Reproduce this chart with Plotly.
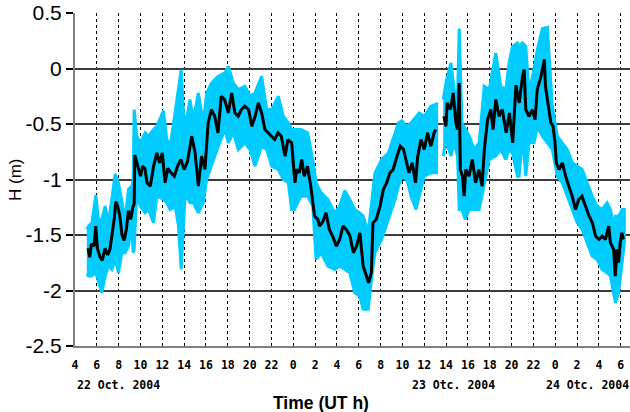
import plotly.graph_objects as go

# ---------------- data (hours since 22 Oct 2004 00:00 UT) ----------------
mean_t = [5.2, 5.35, 5.5, 5.75, 5.9, 6.05, 6.3, 6.5, 6.75, 7.0, 7.2, 7.4, 7.6, 7.75, 7.9, 8.1, 8.3, 8.5, 8.7, 8.9,
          9.1, 9.3, 9.42, 9.48, 9.65, 9.85, 10.0, 10.2, 10.4, 10.6, 10.9, 11.2, 11.5, 11.75, 12.0, 12.25, 12.5, 12.8,
          13.1, 13.4, 13.7, 14.0,
          14.3, 14.7, 15.0, 15.3, 15.6, 15.9, 16.2, 16.5, 16.8, 17.1, 17.4, 17.7, 18.05, 18.35, 18.65, 18.95, 19.25,
          19.55, 19.9, 20.2, 20.5, 20.8, 21.1, 21.4, 21.7, 22.0, 22.3, 22.6, 22.9, 23.25, 23.5, 23.85, 24.15,
          24.3, 24.55, 24.77, 25.0, 25.3, 25.5, 25.6, 25.95, 26.25, 26.4, 26.7, 27.0, 27.3, 27.6, 27.95, 28.25,
          28.55, 28.85, 29.2, 29.5, 29.8, 30.1, 30.4, 30.7, 30.9, 31.15, 31.3, 31.6, 31.95, 32.25, 32.55, 32.85,
          33.15, 33.5, 33.8, 34.1,
          34.35, 34.6, 34.9, 35.2, 35.4, 35.7, 36.0, 36.3, 36.6, 36.9, 37.05, 37.4, 37.8, 37.98, 38.1, 38.4, 38.65,
          38.9, 39.05, 39.2, 39.3, 39.5, 39.65, 39.8, 40.1, 40.4, 40.7, 41.0, 41.3, 41.5, 41.8, 42.1, 42.3, 42.55,
          42.85, 43.15, 43.5, 43.8, 44.1, 44.4,
          44.7, 45.0, 45.15, 45.3, 45.6, 45.9, 46.15, 46.35, 46.7, 47.0, 47.1, 47.4, 47.6, 47.8, 47.98, 48.1, 48.35,
          48.65, 48.95, 49.25, 49.55, 49.85, 50.15, 50.45, 50.75, 51.1, 51.4, 51.7, 52.0, 52.3, 52.6, 52.9, 53.05,
          53.35, 53.5, 53.65, 53.8, 53.95, 54.1, 54.25]
mean_h = [-1.62, -1.70, -1.58, -1.60, -1.42, -1.62, -1.70, -1.73, -1.62, -1.68, -1.63, -1.50, -1.35, -1.20, -1.24,
          -1.32, -1.50, -1.55, -1.45, -1.28, -1.36, -1.25, -1.22, -0.78, -0.84, -0.90, -0.97, -0.88, -0.90, -1.03,
          -1.06, -0.88, -0.76, -0.85, -0.76, -1.03, -0.90, -0.94, -0.97, -0.88, -0.82, -0.91,
          -0.84, -0.61, -0.76, -1.06, -0.79, -0.91, -0.49, -0.37, -0.43, -0.58, -0.25, -0.28, -0.40, -0.22, -0.40,
          -0.43, -0.37, -0.34, -0.37, -0.52, -0.43, -0.31, -0.40, -0.55, -0.58, -0.61, -0.64, -0.58, -0.61, -0.79,
          -0.64, -0.67, -1.03,
          -0.91, -0.94, -0.82, -0.97, -0.88, -1.00, -1.06, -1.33, -1.36, -1.42, -1.38, -1.30, -1.45, -1.51, -1.60,
          -1.54, -1.42, -1.45, -1.51, -1.66, -1.60, -1.48, -1.78, -1.87, -1.93, -1.84, -1.39, -1.36, -1.24, -1.09,
          -1.03, -0.94, -0.91, -0.79, -0.70, -0.73,
          -0.85, -0.94, -0.85, -1.03, -0.79, -0.64, -0.73, -0.58, -0.70, -0.58, -0.55, None, -0.43, -0.52, -0.31,
          -0.37, -0.22, -0.49, -0.55, -0.13, -0.91, -0.97, -1.15, -0.91, -0.97, -0.82, -1.03, -0.91, -1.06, -0.73,
          -0.46, -0.37, -0.55, -0.28, -0.43, -0.37, -0.58, -0.40, -0.67, -0.15,
          -0.31, -0.07, -0.01, -0.37, -0.43, -0.37, -0.46, -0.19, -0.07, 0.08, -0.16, -0.37, -0.49, -0.52, -0.67,
          -0.85, -0.91, -0.85, -0.97, -1.06, -1.15, -1.27, -1.18, -1.15, -1.24, -1.33, -1.39, -1.51, -1.54, -1.51,
          -1.54, -1.42, -1.57, -1.63, -1.87, -1.63, -1.75, -1.57, -1.48, -1.54]

band_t = [5.08, 5.24, 5.54, 5.91, 6.15, 6.46, 6.76, 7.07, 7.37, 7.68, 7.98, 8.29, 8.6, 8.9, 9.2, 9.33, 9.42, 9.66,
          9.97, 10.43, 10.73, 11.19, 11.5, 12.11, 12.41, 12.72, 13.18, 13.48, 13.73, 13.94, 14.09,
          14.23, 14.53, 14.84, 15.3, 15.76, 16.06, 16.52, 17.13, 17.74, 18.05, 18.5, 18.96, 19.57, 20.03, 20.49,
          21.1, 21.56, 22.02, 22.63, 23.08, 23.54, 23.85,
          24.1, 24.71, 25.32, 25.78, 26.09, 26.55, 27.17, 27.78, 28.25, 28.71, 29.17, 29.63, 30.09, 30.4, 30.86,
          31.23, 31.48, 32.09, 32.71, 33.32, 33.63, 33.94, 34.4,
          34.78, 35.24, 35.54, 36.0, 36.61, 37.13, 37.4, 37.74, 37.98, 38.44, 38.74, 39.05, 39.2, 39.45, 39.75,
          40.12, 40.57, 41.03, 41.49, 41.95, 42.55, 43.01, 43.47, 43.77, 44.08, 44.54,
          44.69, 45.0, 45.3, 45.6, 46.06, 46.36, 46.82, 47.28, 47.73, 48.19, 48.64, 49.1, 49.56, 50.01, 50.47,
          50.92, 51.38, 51.84, 52.29, 52.75, 53.05, 53.36, 53.51, 53.81, 54.12, 54.33]
band_hi = [-1.45, -1.42, -1.39, -1.14, -1.36, -1.36, -1.24, -1.39, -1.18, -0.95, -1.03, -1.18, -1.36, -1.09, -1.06,
           -1.00, -0.37, -0.61, -0.67, -0.58, -0.61, -0.55, -0.52, -0.38, -0.64, -0.70, -0.37, -0.19, -0.01, -0.40,
           -0.49,
           -0.46, -0.28, -0.46, -0.22, -0.49, -0.22, -0.13, -0.07, -0.04, 0.02, -0.13, -0.19, -0.16, -0.25, -0.22,
           -0.07, -0.37, -0.37, -0.25, -0.43, -0.49, -0.55,
           -0.55, -0.55, -0.58, -0.82, -1.03, -1.12, -1.18, -1.30, -1.24, -1.10, -1.18, -1.27, -1.30, -1.33, -1.48,
           -1.18, -0.94, -0.82, -0.76, -0.58, -0.49, -0.47, -0.52,
           -0.49, -0.43, -0.40, -0.43, -0.34, -0.32, None, -0.28, -0.13, 0.05, -0.19, -0.25, 0.36, -0.49, -0.55,
           -0.61, -0.73, -0.67, -0.16, -0.19, 0.14, -0.16, -0.19, 0.05, 0.20, 0.23,
           0.20, 0.23, 0.20, -0.22, 0.00, 0.17, 0.36, 0.37, -0.34, -0.61, -0.67, -0.73, -0.85, -0.88, -0.91,
           -1.03, -1.15, -1.24, -1.27, -1.21, -1.27, -1.42, -1.33, -1.33, -1.27, -1.27]
band_lo = [-1.85, -1.87, -1.87, -1.84, -1.93, -2.02, -1.87, -1.78, -1.81, -1.72, -1.84, -1.66, -1.66, -1.60, -1.42,
           -1.66, -1.63, -1.12, -1.24, -1.30, -1.27, -1.39, -1.15, -1.18, -1.21, -1.27, -1.24, -1.42, -1.81, -1.40,
           -1.15,
           -1.15, -1.21, -1.21, -1.30, -1.21, -1.00, -0.88, -0.70, -0.55, -0.67, -0.58, -0.73, -0.67, -0.73, -0.88,
           -0.70, -0.73, -0.88, -0.91, -1.00, -1.03, -1.27,
           -1.27, -1.15, -1.15, -1.24, -1.72, -1.66, -1.78, -1.81, -1.78, -1.81, -1.84, -2.02, -2.05, -2.17, -2.17,
           -1.84, -1.66, -1.54, -1.36, -1.18, -1.06, -0.97, -1.00,
           -1.15, -1.27, -1.15, -0.97, -0.94, -0.94, None, -0.79, -0.64, -0.79, -0.67, -0.79, -1.27, -1.27, -1.36,
           -1.27, -1.27, -1.27, -1.03, -0.82, -0.79, -0.73, -0.82, -0.73, -0.76, -0.97,
           -0.97, -0.61, -0.97, -0.67, -0.67, -0.52, -0.61, -0.67, -0.73, -0.97, -1.03, -1.15, -1.27, -1.39, -1.45,
           -1.57, -1.69, -1.72, -1.81, -1.84, -1.87, -2.02, -2.11, -2.02, -1.75, -1.57]

x_tick_hours = [4, 6, 8, 10, 12, 14, 16, 18, 20, 22, 24, 26, 28, 30, 32, 34, 36, 38, 40, 42, 44, 46, 48, 50, 52, 54]
x_tick_labels = ["4", "6", "8", "10", "12", "14", "16", "18", "20", "22", "0", "2", "4", "6", "8", "10", "12",
                 "14", "16", "18", "20", "22", "0", "2", "4", "6"]
y_tick_vals = [-2.5, -2.0, -1.5, -1.0, -0.5, 0.0, 0.5]
y_tick_labels = ["-2.5", "-2", "-1.5", "-1", "-0.5", "0", "0.5"]
date_labels = ["22 Oct. 2004", "23 Otc. 2004", "24 Otc. 2004"]

CYAN = "#00CCFF"

fig = go.Figure()

# cyan spread band, split at data gaps
segs, cur = [], []
for t, hi, lo in zip(band_t, band_hi, band_lo):
    if hi is None or lo is None:
        if cur:
            segs.append(cur)
        cur = []
    else:
        cur.append((t, hi, lo))
if cur:
    segs.append(cur)
for seg in segs:
    ts = [p[0] for p in seg]
    his = [p[1] for p in seg]
    los = [p[2] for p in seg]
    fig.add_trace(go.Scatter(x=ts + ts[::-1], y=his + los[::-1], fill="toself", fillcolor=CYAN,
                             mode="lines", line=dict(color=CYAN, width=3), hoverinfo="skip",
                             showlegend=False))

fig.add_trace(go.Scatter(x=mean_t, y=mean_h, mode="lines", line=dict(color="black", width=3),
                         connectgaps=False, showlegend=False))

mono = "DejaVu Sans Mono"
fig.update_layout(
    width=630, height=412,
    margin=dict(l=75, r=0, t=13, b=66),
    paper_bgcolor="white", plot_bgcolor="white",
    showlegend=False,
    xaxis=dict(range=[4, 4 + 555 / 10.915], tickmode="array", tickvals=x_tick_hours, ticktext=x_tick_labels,
               automargin=False,
               showgrid=True, gridcolor="black", gridwidth=1, griddash="3px,3px",
               showline=True, linecolor="#808080", linewidth=2, zeroline=False,
               ticks="outside", ticklen=7, tickcolor="rgba(0,0,0,0)",
               tickfont=dict(family=mono, size=11.5, color="black", weight="bold")),
    yaxis=dict(range=[-2.5, 0.5], tickmode="array", tickvals=y_tick_vals, ticktext=y_tick_labels,
               automargin=False,
               showgrid=True, gridcolor="#3c3c3c", gridwidth=1.5,
               showline=True, linecolor="#808080", linewidth=2, zeroline=False,
               ticks="outside", ticklen=7, tickcolor="black", tickwidth=1.5,
               tickfont=dict(family="Liberation Sans, Arial", size=21, color="black")),
)

anns = [
    dict(text=date_labels[0], x=0.0, xanchor="left", y=-0.09, yanchor="top"),
    dict(text=date_labels[1], x=(453 - 75) / 555, xanchor="center", y=-0.09, yanchor="top"),
    dict(text=date_labels[2], x=(587 - 75) / 555, xanchor="center", y=-0.09, yanchor="top"),
]
for a in anns:
    fig.add_annotation(xref="paper", yref="paper", showarrow=False,
                       font=dict(family=mono, size=11.5, color="black", weight="bold"), **a)

fig.add_annotation(text="<b>Time (UT h)</b>", xref="paper", yref="paper", x=(321 - 75) / 555, y=-0.135,
                   xanchor="center", yanchor="top", showarrow=False,
                   font=dict(family="Liberation Sans, Arial", size=17.5, color="black"))
fig.add_annotation(text="H (m)", xref="paper", yref="paper", x=(15 - 75) / 555, y=(346 - 180) / 333,
                   xanchor="center", yanchor="middle", textangle=-90, showarrow=False,
                   font=dict(family="Liberation Sans, Arial", size=17, color="black"))

fig.write_html("out.html", config={"displayModeBar": False},
               post_script="document.body.style.margin='0px';document.body.style.overflow='hidden';")
